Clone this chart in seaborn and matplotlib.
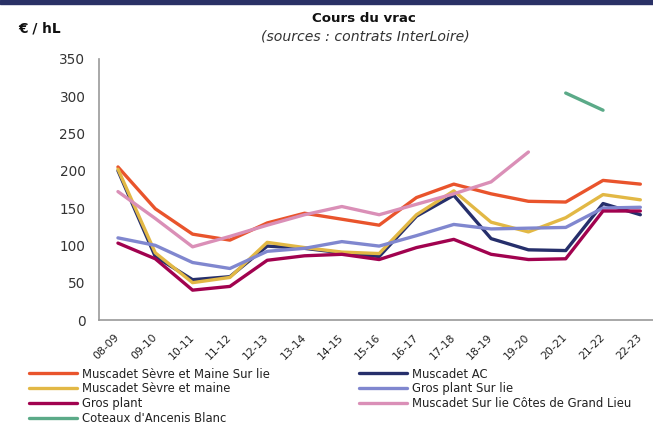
import numpy as np
import pandas as pd
import matplotlib.pyplot as plt
import seaborn as sns

# Campaigns
campagnes = ['08-09', '09-10', '10-11', '11-12', '12-13', '13-14', '14-15', '15-16',
             '16-17', '17-18', '18-19', '19-20', '20-21', '21-22', '22-23']

# Prices in EUR/hL per appellation
sevre_maine_sur_lie = [205, 149, 115, 107, 130, 143, 135, 127, 164, 182, 169, 159, 158, 187, 182]
muscadet_ac = [200, 85, 54, 58, 99, 96, 90, 85, 139, 167, 109, 94, 93, 156, 141]
sevre_maine = [202, 90, 50, 57, 104, 97, 91, 89, 141, 173, 131, 118, 137, 168, 161]
gros_plant_sur_lie = [110, 100, 77, 69, 92, 96, 105, 99, 113, 128, 122, 123, 124, 150, 151]
gros_plant = [103, 82, 40, 45, 80, 86, 88, 81, 97, 108, 88, 81, 82, 146, 146]
grand_lieu = [172, 136, 98, 112, 127, 141, 152, 141, 155, 169, 185, 225, np.nan, np.nan, np.nan]
ancenis_blanc = [np.nan] * 12 + [304, 281, np.nan]

series = {
    'Muscadet Sèvre et Maine Sur lie': (sevre_maine_sur_lie, '#E9542C'),
    'Muscadet AC': (muscadet_ac, '#262F6B'),
    'Muscadet Sèvre et maine': (sevre_maine, '#E2B845'),
    'Gros plant Sur lie': (gros_plant_sur_lie, '#8087CF'),
    'Gros plant': (gros_plant, '#A1024F'),
    'Muscadet Sur lie Côtes de Grand Lieu': (grand_lieu, '#DA8FB7'),
    "Coteaux d'Ancenis Blanc": (ancenis_blanc, '#5BAA88'),
}

sns.set_style('white')
plt.rcParams['font.family'] = ['DejaVu Sans']

fig = plt.figure(figsize=(6.53, 4.26), dpi=100)
ax = fig.add_axes([99.3 / 653, 106 / 426, 559.7 / 653, 261.3 / 426])

pos = np.arange(len(campagnes))
lines = {}
for name, (vals, color) in series.items():
    df = pd.DataFrame({'x': pos, 'y': vals}).dropna()
    sns.lineplot(data=df, x='x', y='y', ax=ax, color=color, linewidth=2.4,
                 label=name, legend=False)
    lines[name] = ax.lines[-1]

ax.set_xlim(-0.5, len(campagnes) - 0.5)
ax.set_ylim(0, 350)
ax.set_yticks(range(0, 351, 50))
ax.set_xticks(pos)
ax.set_xticklabels(campagnes, rotation=45, ha='right', va='center',
                   rotation_mode='anchor', fontsize=7.8, color='#222222')
ax.set_xticks(pos[:-1] + 0.5, minor=True)
ax.tick_params(axis='x', which='major', length=0, pad=11.5)
ax.tick_params(axis='x', which='minor', length=3, color='#999999', width=1, direction='out')
ax.tick_params(axis='y', length=3, color='#999999', width=1, direction='out', labelsize=9.8,
               pad=7, labelcolor='#333333')
ax.set_xlabel('')
ax.set_ylabel('')
for s in ['top', 'right']:
    ax.spines[s].set_visible(False)
for s in ['left', 'bottom']:
    ax.spines[s].set_color('#999999')
    ax.spines[s].set_linewidth(1.2)

# Titles
fig.text(364 / 653, 1 - 18.7 / 426, 'Cours du vrac', ha='center', va='center',
         fontsize=9.6, fontweight='bold', color='#111111')
fig.text(365 / 653, 1 - 37 / 426, '(sources : contrats InterLoire)', ha='center', va='center',
         fontsize=10.1, style='italic', color='#333333')
fig.text(18 / 653, 1 - 28 / 426, '€ / hL', ha='left', va='center', fontsize=9.9,
         fontweight='bold', color='#111111')

# top band
fig.patches.append(plt.Rectangle((0, 1 - 3.5 / 426), 1, 3.5 / 426, transform=fig.transFigure,
                                 color='#2A3166', zorder=5))

order = ['Muscadet Sèvre et Maine Sur lie', 'Muscadet Sèvre et maine', 'Gros plant',
         "Coteaux d'Ancenis Blanc", 'Muscadet AC', 'Gros plant Sur lie',
         'Muscadet Sur lie Côtes de Grand Lieu']
leg = fig.legend([lines[n] for n in order], order, ncol=2, loc='upper left',
                 bbox_to_anchor=(29 / 653, 1 - 367.5 / 426), frameon=False, fontsize=8.4,
                 handlelength=4.1, handletextpad=0.4, columnspacing=7.7,
                 labelspacing=0.17, borderpad=0, borderaxespad=0)
for t in leg.get_texts():
    t.set_color('#222222')

fig.savefig('out.png', dpi=100)
